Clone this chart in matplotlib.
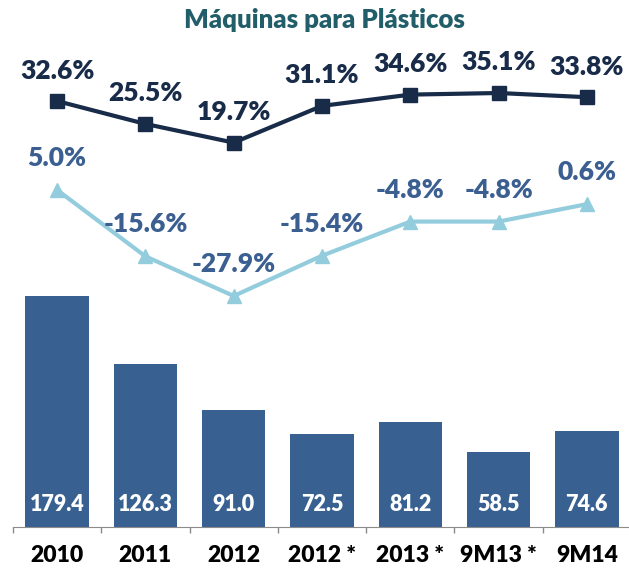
import matplotlib
matplotlib.use("Agg")
import matplotlib.pyplot as plt

categories = ["2010", "2011", "2012", "2012 *", "2013 *", "9M13 *", "9M14"]
sales = [179.4, 126.3, 91.0, 72.5, 81.2, 58.5, 74.6]
margin = [32.6, 25.5, 19.7, 31.1, 34.6, 35.1, 33.8]
growth = [5.0, -15.6, -27.9, -15.4, -4.8, -4.8, 0.6]

BAR_COLOR = "#386192"
DARK = "#182b48"
LIGHT = "#93cddd"
LIGHT_TEXT = "#3a5f90"
TITLE = "#215e69"

plt.rcParams["font.family"] = ["Lato", "DejaVu Sans"]
WEIGHT = "heavy"

W, H = 629, 569
fig = plt.figure(figsize=(W / 100, H / 100), dpi=100)
# axes box in pixels: x 13..631, y 40..527 (from top)
ax = fig.add_axes([13 / W, (H - 527) / H, 618 / W, 487 / H])
x = list(range(len(categories)))

ax.bar(x, sales, width=0.72, color=BAR_COLOR, zorder=2)
ax.set_xlim(-0.5, len(categories) - 0.5)
ax.set_ylim(0, 487 / 1.288)
for xi, v in zip(x, sales):
    ax.annotate(f"{v:.1f}", (xi, 0), xytext=(0, 16.5), textcoords="offset points",
                ha="center", va="center", color="white", fontsize=15.5, fontweight=WEIGHT)

for side in ("top", "right", "left"):
    ax.spines[side].set_visible(False)
ax.spines["bottom"].set_color("#8c8c8c")
ax.set_yticks([])
ax.set_xticks(x)
ax.set_xticklabels(categories, fontsize=16.5, fontweight=WEIGHT, color="black")
ax.tick_params(axis="x", which="major", length=0, pad=13)
ax.set_xticks([i - 0.5 for i in range(len(categories) + 1)], minor=True)
ax.tick_params(axis="x", which="minor", length=4.5, color="#8c8c8c", width=1)

ax2 = ax.twinx()
ax2.set_ylim((206.1 - 527) / 3.222, (206.1 - 40) / 3.222)
ax2.axis("off")
ax2.plot(x, margin, color=DARK, lw=3, marker="s", ms=10, zorder=3)
ax2.plot(x, growth, color=LIGHT, lw=3, marker="^", ms=10, zorder=3)
for xi, v in zip(x, margin):
    ax2.annotate(f"{v:.1f}%", (xi, v), xytext=(0, 22), textcoords="offset points",
                 ha="center", va="center", color=DARK, fontsize=19, fontweight=WEIGHT)
for xi, v in zip(x, growth):
    ax2.annotate(f"{v:.1f}%", (xi, v), xytext=(0, 23), textcoords="offset points",
                 ha="center", va="center", color=LIGHT_TEXT, fontsize=19, fontweight=WEIGHT)

fig.text(324 / W, 1 - 20 / H, "Máquinas para Plásticos", ha="center", va="center",
         color=TITLE, fontsize=18.5, fontweight=WEIGHT)

fig.savefig("out.png", dpi=100)
